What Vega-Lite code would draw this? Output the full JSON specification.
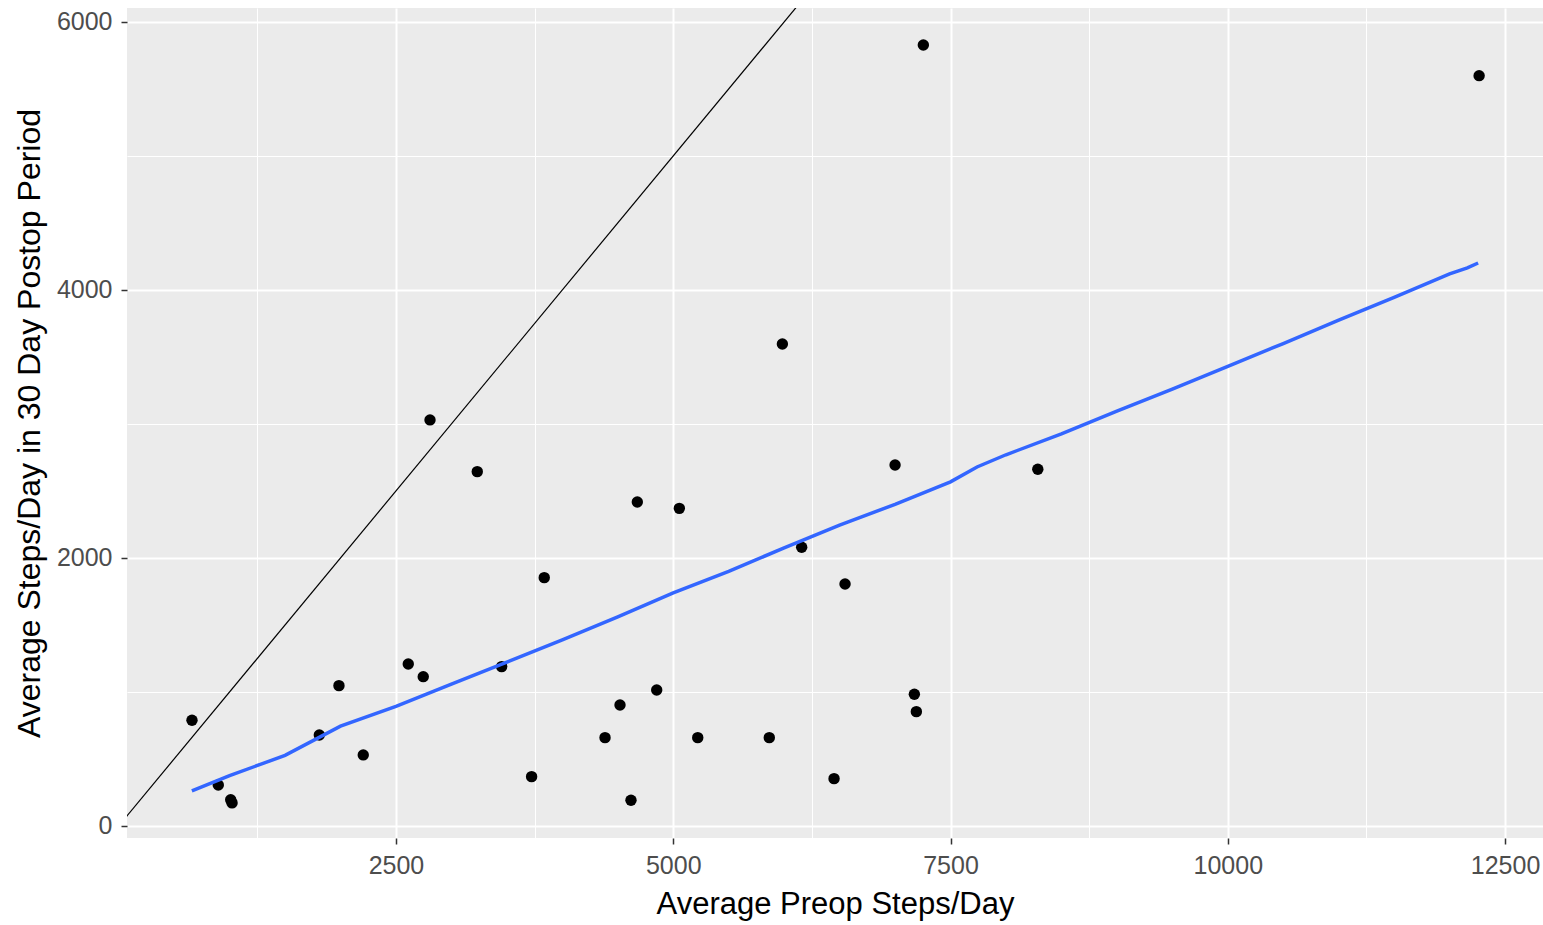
{
  "$schema": "https://vega.github.io/schema/vega-lite/v6.json",
  "width": 1416,
  "height": 830,
  "autosize": {"type": "none"},
  "padding": {"left": 127, "top": 8, "right": 0, "bottom": 87},
  "background": "#FFFFFF",
  "config": {
    "view": {"fill": "#EBEBEB", "stroke": null},
    "font": "Liberation Sans",
    "axis": {
      "labelFont": "Liberation Sans",
      "titleFont": "Liberation Sans",
      "titleFontWeight": "normal",
      "domain": false
    }
  },
  "datasets": {
    "points": [
      {"preop": 661, "postop": 789},
      {"preop": 898, "postop": 306},
      {"preop": 1010, "postop": 195},
      {"preop": 1022, "postop": 172},
      {"preop": 1809, "postop": 679},
      {"preop": 1986, "postop": 1047},
      {"preop": 2205, "postop": 530},
      {"preop": 2611, "postop": 1209},
      {"preop": 2746, "postop": 1114},
      {"preop": 2807, "postop": 3030},
      {"preop": 3233, "postop": 2644},
      {"preop": 3453, "postop": 1189},
      {"preop": 3723, "postop": 368},
      {"preop": 3837, "postop": 1853},
      {"preop": 4385, "postop": 659},
      {"preop": 4520, "postop": 903},
      {"preop": 4619, "postop": 192},
      {"preop": 4676, "postop": 2418},
      {"preop": 4851, "postop": 1015},
      {"preop": 5055, "postop": 2370},
      {"preop": 5221, "postop": 659},
      {"preop": 5866, "postop": 659},
      {"preop": 5984, "postop": 3597},
      {"preop": 6158, "postop": 2080},
      {"preop": 6450, "postop": 353},
      {"preop": 6549, "postop": 1806},
      {"preop": 7000, "postop": 2694},
      {"preop": 7174, "postop": 983},
      {"preop": 7192, "postop": 853},
      {"preop": 7255, "postop": 5828},
      {"preop": 8287, "postop": 2662},
      {"preop": 12266, "postop": 5599}
    ],
    "smooth": [
      {"preop": 660, "fit": 261},
      {"preop": 1000, "fit": 375},
      {"preop": 1500, "fit": 527},
      {"preop": 2000, "fit": 745},
      {"preop": 2500, "fit": 893},
      {"preop": 3000, "fit": 1058},
      {"preop": 3500, "fit": 1222},
      {"preop": 4000, "fit": 1388},
      {"preop": 4500, "fit": 1560},
      {"preop": 5000, "fit": 1740},
      {"preop": 5500, "fit": 1900},
      {"preop": 6000, "fit": 2075},
      {"preop": 6500, "fit": 2245},
      {"preop": 7000, "fit": 2400},
      {"preop": 7500, "fit": 2568},
      {"preop": 7739, "fit": 2679},
      {"preop": 8000, "fit": 2770},
      {"preop": 8500, "fit": 2925},
      {"preop": 9000, "fit": 3095},
      {"preop": 9500, "fit": 3260},
      {"preop": 10000, "fit": 3430},
      {"preop": 10500, "fit": 3600},
      {"preop": 11000, "fit": 3775},
      {"preop": 11500, "fit": 3945},
      {"preop": 12000, "fit": 4120},
      {"preop": 12160, "fit": 4164},
      {"preop": 12257, "fit": 4201}
    ],
    "identity": [
      {"preop": 0, "postop": 0},
      {"preop": 13000, "postop": 13000}
    ]
  },
  "layer": [
    {
      "data": {"name": "identity"},
      "mark": {"type": "line", "opacity": 0},
      "encoding": {
        "x": {
          "field": "preop", "type": "quantitative",
          "scale": {"domain": [75, 12842], "nice": false, "zero": false},
          "axis": {
            "orient": "bottom",
            "values": [1250, 3750, 6250, 8750, 11250],
            "grid": true, "gridColor": "#FFFFFF", "gridWidth": 1,
            "labels": false, "ticks": false, "title": null
          }
        },
        "y": {
          "field": "postop", "type": "quantitative",
          "scale": {"domain": [-90, 6104], "nice": false, "zero": false},
          "axis": {
            "orient": "left",
            "values": [1000, 3000, 5000],
            "grid": true, "gridColor": "#FFFFFF", "gridWidth": 1,
            "labels": false, "ticks": false, "title": null
          }
        }
      }
    },
    {
      "data": {"name": "points"},
      "mark": {"type": "circle", "size": 130, "color": "#000000", "opacity": 1},
      "encoding": {
        "x": {
          "field": "preop", "type": "quantitative",
          "axis": {
            "orient": "bottom",
            "values": [2500, 5000, 7500, 10000, 12500],
            "format": "d",
            "grid": true, "gridColor": "#FFFFFF", "gridWidth": 2,
            "ticks": true, "tickColor": "#333333", "tickSize": 6, "tickWidth": 1.5,
            "labelFontSize": 25, "labelColor": "#4D4D4D", "labelPadding": 9,
            "title": "Average Preop Steps/Day",
            "titleFontSize": 31, "titleColor": "#000000", "titlePadding": 11
          }
        },
        "y": {
          "field": "postop", "type": "quantitative",
          "axis": {
            "orient": "left",
            "values": [0, 2000, 4000, 6000],
            "format": "d",
            "grid": true, "gridColor": "#FFFFFF", "gridWidth": 2,
            "ticks": true, "tickColor": "#333333", "tickSize": 6, "tickWidth": 1.5,
            "labelFontSize": 25, "labelColor": "#4D4D4D", "labelPadding": 9,
            "title": "Average Steps/Day in 30 Day Postop Period",
            "titleFontSize": 32, "titleColor": "#000000", "titlePadding": 10
          }
        }
      }
    },
    {
      "data": {"name": "identity"},
      "mark": {"type": "line", "color": "#000000", "strokeWidth": 1.2, "clip": true},
      "encoding": {
        "x": {"field": "preop", "type": "quantitative", "axis": null},
        "y": {"field": "postop", "type": "quantitative", "axis": null}
      }
    },
    {
      "data": {"name": "smooth"},
      "mark": {"type": "line", "color": "#3366FF", "strokeWidth": 3.5, "clip": true},
      "encoding": {
        "x": {"field": "preop", "type": "quantitative", "axis": null},
        "y": {"field": "fit", "type": "quantitative", "axis": null}
      }
    }
  ],
  "resolve": {"axis": {"x": "independent", "y": "independent"}}
}
